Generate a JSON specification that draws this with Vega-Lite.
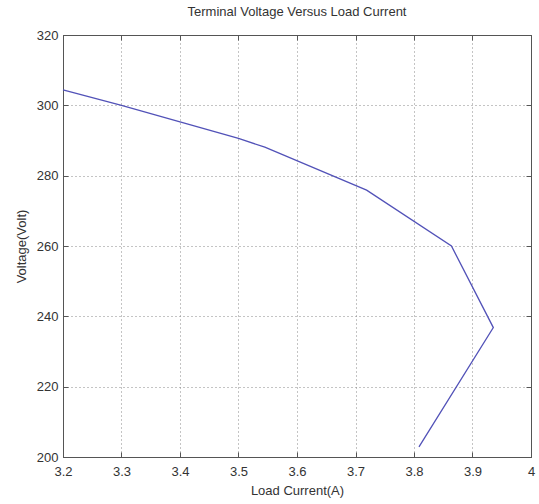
{
  "$schema": "https://vega.github.io/schema/vega-lite/v6.json",
  "autosize": {"type": "none"},
  "padding": {"left": 63, "top": 35, "right": 8, "bottom": 47},
  "width": 468,
  "height": 422,
  "background": "white",
  "title": {
    "text": "Terminal Voltage Versus Load Current",
    "font": "Liberation Sans",
    "fontSize": 13,
    "fontWeight": "normal",
    "color": "#333333",
    "offset": 10
  },
  "config": {
    "view": {"stroke": "#555555", "strokeWidth": 1},
    "axis": {
      "labelFont": "Liberation Sans",
      "titleFont": "Liberation Sans",
      "labelFontSize": 13,
      "titleFontSize": 13,
      "titleFontWeight": "normal",
      "labelColor": "#333333",
      "titleColor": "#333333",
      "domainColor": "#555555",
      "tickColor": "#555555",
      "gridColor": "#888888",
      "gridDash": [1, 3],
      "gridOpacity": 1
    }
  },
  "data": {
    "values": [
      {"step": 1, "current": 3.2, "voltage": 304.4},
      {"step": 2, "current": 3.3, "voltage": 300.0},
      {"step": 3, "current": 3.4, "voltage": 295.3},
      {"step": 4, "current": 3.5, "voltage": 290.6},
      {"step": 5, "current": 3.545, "voltage": 288.1},
      {"step": 6, "current": 3.719, "voltage": 275.9},
      {"step": 7, "current": 3.864, "voltage": 260.0},
      {"step": 8, "current": 3.9356, "voltage": 236.8},
      {"step": 9, "current": 3.8085, "voltage": 202.9}
    ]
  },
  "layer": [
    {
      "mark": {"type": "line", "color": "#5252b8", "strokeWidth": 1.3},
      "encoding": {
        "x": {"field": "current", "type": "quantitative",
          "scale": {"domain": [3.2, 4], "nice": false, "zero": false},
          "axis": {"title": "Load Current(A)", "values": [3.2, 3.3, 3.4, 3.5, 3.6, 3.7, 3.8, 3.9, 4], "format": "~g", "grid": true, "tickSize": -5, "labelPadding": 13, "titlePadding": 6, "labelFlush": false}},
        "y": {"field": "voltage", "type": "quantitative",
          "scale": {"domain": [200, 320], "nice": false, "zero": false},
          "axis": {"title": "Voltage(Volt)", "values": [200, 220, 240, 260, 280, 300, 320], "grid": true, "tickSize": -5, "labelPadding": 10, "titlePadding": 8, "labelFlush": false}},
        "order": {"field": "step", "type": "quantitative", "sort": "ascending"}
      }
    },
    {
      "mark": {"type": "line", "opacity": 0},
      "encoding": {
        "x": {"field": "current", "type": "quantitative",
          "axis": {"orient": "top", "title": null, "labels": false, "values": [3.2, 3.3, 3.4, 3.5, 3.6, 3.7, 3.8, 3.9, 4], "grid": false, "tickSize": -5}},
        "y": {"field": "voltage", "type": "quantitative",
          "axis": {"orient": "right", "title": null, "labels": false, "values": [200, 220, 240, 260, 280, 300, 320], "grid": false, "tickSize": -5}},
        "order": {"field": "step", "type": "quantitative", "sort": "ascending"}
      }
    }
  ],
  "resolve": {"axis": {"x": "independent", "y": "independent"}}
}
